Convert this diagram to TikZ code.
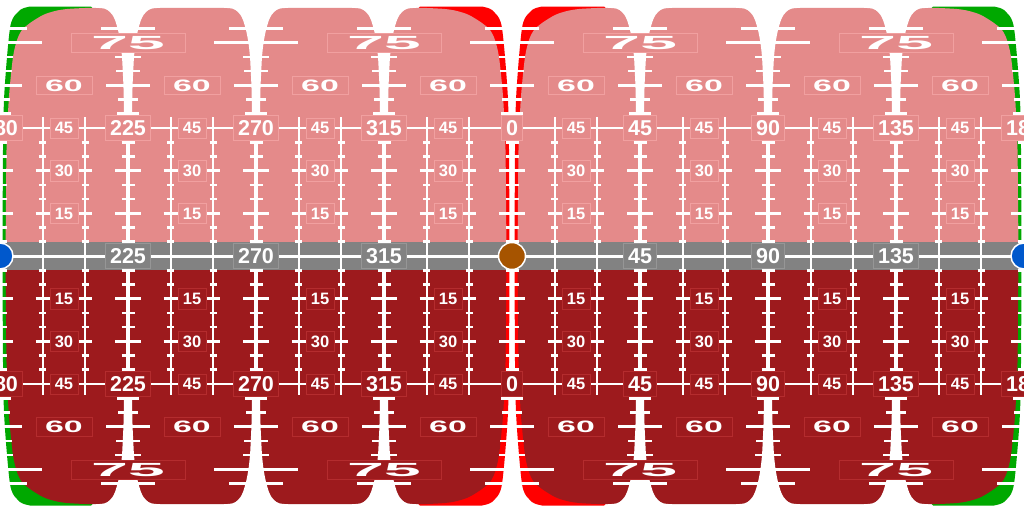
\documentclass[tikz,border=0pt]{standalone}
\usepackage{fontspec}
\newfontfamily\labfont{Liberation Sans}
\definecolor{pinkc}{RGB}{228,138,138}
\definecolor{pinkb}{RGB}{241,160,160}
\definecolor{redc}{RGB}{157,26,29}
\definecolor{redb}{RGB}{180,44,46}
\definecolor{grayc}{RGB}{130,130,130}
\definecolor{grayb}{RGB}{150,150,150}
\definecolor{greenc}{RGB}{0,168,0}
\definecolor{redbr}{RGB}{255,0,0}
\definecolor{bluec}{RGB}{0,88,204}
\definecolor{brownc}{RGB}{166,84,0}

\newcommand\sidepath[1]{plot[smooth] coordinates {(2.5,250)(3,150)(4,100)(7,57)(10,28)(13,18)(17,13)(20,10)(24,8)(30,6.5)} -- (#1-4,6.5) -- (#1,10.5) -- (#1,250) -- cycle}
\newcommand\pinkpath{plot[smooth] coordinates {(5.5,250)(6,200)(6.5,150)(8,113)(9.5,90)(13,57)(17,40)(22,30)(30,23)(43,15)(55,11)(67,9)(85,8)(100,7.8)} -- plot[smooth] coordinates {(412,7.8)(427,8)(445,9)(457,11)(469,15)(482,23)(490,30)(495,40)(499,57)(502.5,90)(504,113)(505.5,150)(506,200)(506.5,250)} -- cycle}
\newcommand\funnelpath{plot[smooth] coordinates {(-4,113)(-4.2,100)(-4.6,85)(-5.3,70)(-6,57)(-7.5,43)(-10,30)(-13,20)(-15.5,15)(-18,12)(-20.5,10)(-23,8.8)(-27,8.1)(-32,7.8)} -- (-32,4) -- (32,4) -- plot[smooth] coordinates {(32,7.8)(27,8.1)(23,8.8)(20.5,10)(18,12)(15.5,15)(13,20)(10,30)(7.5,43)(6,57)(5.3,70)(4.6,85)(4.2,100)(4,113)} -- cycle}
\newcommand\halfdraw[1]{%
  \fill[greenc] \sidepath{95};
  \begin{scope}[shift={(1024,0)},xscale=-1]\fill[greenc] \sidepath{95};\end{scope}
  \begin{scope}[shift={(512,0)}]\fill[redbr] \sidepath{96};\end{scope}
  \begin{scope}[shift={(512,0)},xscale=-1]\fill[redbr] \sidepath{96};\end{scope}
  \foreach \sx in {0,512}{\fill[#1,shift={(\sx,0)}] \pinkpath;}
  \foreach \fx in {128,256,384,640,768,896}{\fill[white,shift={(\fx,0)}] \funnelpath;}
}

\begin{document}
\begin{tikzpicture}[x=1pt,y=-1pt,
  lbl/.style={text=white, inner sep=0pt, line width=0.6pt},
  big/.style={lbl, font=\labfont\bfseries\fontsize{21.5}{21.5}\selectfont, inner xsep=4.8pt, inner ysep=5pt, text height=15.3pt, text depth=0pt},
  small/.style={lbl, font=\labfont\bfseries\fontsize{16.5}{16.5}\selectfont, inner xsep=4.8pt, inner ysep=4.3pt, text height=11.8pt, text depth=0pt},
  sixty/.style={lbl, font=\labfont\bfseries\fontsize{16.5}{16.5}\selectfont, inner xsep=4.6pt, inner ysep=3.2pt, text height=11.8pt, text depth=0pt, xscale=2.05, line width=0.4pt},
  sevfive/.style={lbl, font=\labfont\bfseries\fontsize{19}{19}\selectfont, inner xsep=5.8pt, inner ysep=2.8pt, text height=13.6pt, text depth=0pt, xscale=3.5, line width=0.25pt},
  onpink/.style={fill=pinkc, draw=pinkb},
  onred/.style={fill=redc, draw=redb},
  ongray/.style={fill=grayc, draw=grayb},
  tk/.style={white, line width=2.7pt},
  dot/.style={circle, draw=white, line width=1.5pt, minimum size=26pt, inner sep=0pt}]
\useasboundingbox (0,0) rectangle (1024,512);
\clip (0,0) rectangle (1024,512);
\fill[white] (0,0) rectangle (1024,512);
\halfdraw{pinkc}
\begin{scope}[shift={(0,512)},yscale=-1]\halfdraw{redc}\end{scope}
\fill[grayc] (0,241.8) rectangle (1024,270.2);
% meridians and parallels
\foreach \k in {1,2,4,5,7,8,10,11,13,14,16,17,19,20,22,23}
  \draw[white,line width=2.2pt] (\k*42.6667,117) -- (\k*42.6667,395);
\foreach \x in {0,128,...,1024}
  \draw[white,line width=4pt] (\x,113) -- (\x,399);
\draw[white,line width=2.8pt] (0,128) -- (1024,128);
\draw[white,line width=2.8pt] (0,384) -- (1024,384);
\draw[white,line width=3pt] (0,256) -- (1024,256);
% ticks
\foreach \x in {0,128,...,1024}{
  \foreach \l/\h in {5/6.5,10/6.5,15/13,20/6.5,25/6.5,30/13,35/6.5,40/6.5,50/11,55/10,60/22,65/12,70/13,75/42,80/27}{
    \draw[tk] (\x-\h,256-\l*2.84444) -- (\x+\h,256-\l*2.84444);
    \draw[tk] (\x-\h,256+\l*2.84444) -- (\x+\h,256+\l*2.84444);
  }}
\foreach \k in {1,2,4,5,7,8,10,11,13,14,16,17,19,20,22,23}{
  \foreach \l/\h in {5/3.7,10/3.7,15/7,20/3.7,25/3.7,30/7,35/3.7,40/3.7}{
    \draw[tk] (\k*42.6667-\h,256-\l*2.84444) -- (\k*42.6667+\h,256-\l*2.84444);
    \draw[tk] (\k*42.6667-\h,256+\l*2.84444) -- (\k*42.6667+\h,256+\l*2.84444);
  }}
% labels
\foreach \x/\t in {0/180,128/225,256/270,384/315,512/0,640/45,768/90,896/135,1024/180}{
  \node[big,onpink] (nt\x) at (\x,128) {\t};
  \node[big,onred] (nb\x) at (\x,384) {\t};
}
\foreach \x/\t in {128/225,256/270,384/315,640/45,768/90,896/135}
  \node[big,ongray] (ne\x) at (\x,256) {\t};
\foreach \x in {64,192,...,960}{
  \node[small,onpink] (a\x) at (\x,128) {45};
  \node[small,onpink] (b\x) at (\x,170.667) {30};
  \node[small,onpink] (c\x) at (\x,213.333) {15};
  \node[small,onred] (d\x) at (\x,384) {45};
  \node[small,onred] (e\x) at (\x,341.333) {30};
  \node[small,onred] (f\x) at (\x,298.667) {15};
  \node[sixty,onpink] (g\x) at (\x,85.333) {60};
  \node[sixty,onred] (h\x) at (\x,426.667) {60};
}
\foreach \x in {128,384,640,896}{
  \node[sevfive,onpink] (i\x) at (\x,42.667) {75};
  \node[sevfive,onred] (j\x) at (\x,469.333) {75};
}
% dots
\node[dot,fill=bluec] (dl) at (0,256) {};
\node[dot,fill=bluec] (dr) at (1024,256) {};
\node[dot,fill=brownc,minimum size=27pt] (dc) at (512,256) {};
\end{tikzpicture}
\end{document}
